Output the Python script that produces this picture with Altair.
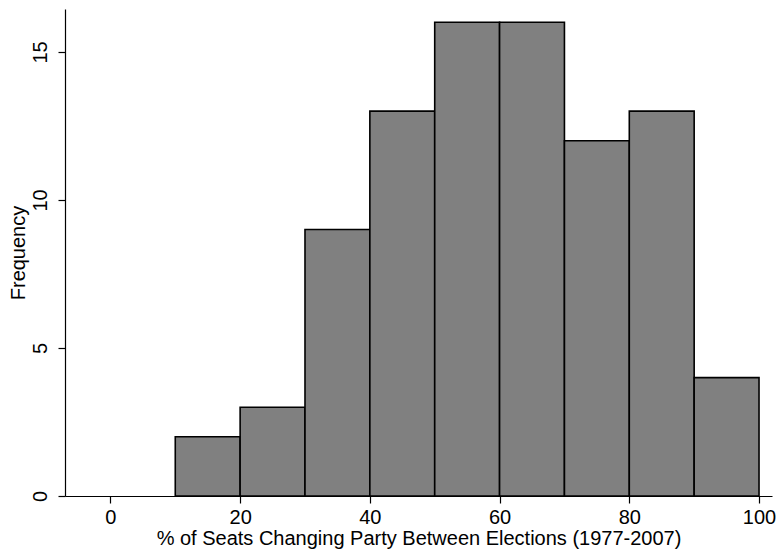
import altair as alt
import pandas as pd

bin_start = [10, 20, 30, 40, 50, 60, 70, 80, 90]
bin_end = [20, 30, 40, 50, 60, 70, 80, 90, 100]
frequency = [2, 3, 9, 13, 16, 16, 12, 13, 4]

df = pd.DataFrame({"start": bin_start, "end": bin_end, "freq": frequency})

FONT = "Liberation Sans"

bars = alt.Chart(df).mark_rect(
    fill="#808080", stroke="black", strokeWidth=1.6
).encode(
    x=alt.X(
        "start:Q",
        scale=alt.Scale(domain=[-7, 102], nice=False, zero=False),
        axis=alt.Axis(
            values=[0, 20, 40, 60, 80, 100],
            title="% of Seats Changing Party Between Elections (1977-2007)",
            grid=False,
            tickSize=7,
            labelPadding=4,
            titlePadding=1,
            labelOverlap=False,
            labelFlush=False,
        ),
    ),
    x2="end:Q",
    y=alt.Y(
        "freq:Q",
        scale=alt.Scale(domain=[0, 16.45], nice=False),
        axis=alt.Axis(
            values=[0, 5, 10, 15],
            title="Frequency",
            grid=False,
            tickSize=7,
            labelAngle=-90,
            labelAlign="center",
            labelBaseline="bottom",
            labelPadding=8,
            titlePadding=2,
        ),
    ),
    y2=alt.datum(0),
)

chart = bars.properties(
    width=707,
    height=487,
    autosize=alt.AutoSizeParams(type="none"),
    padding={"left": 65, "top": 9, "right": 5, "bottom": 57},
).configure_view(stroke=None).configure_axis(
    domainColor="black",
    domainWidth=1.2,
    tickColor="black",
    tickWidth=1.2,
    labelFont=FONT,
    titleFont=FONT,
    labelFontSize=20,
    titleFontSize=20,
    labelColor="black",
    titleColor="black",
    titleFontWeight="normal",
)

chart.save("out.html", embed_options={"renderer": "svg", "actions": False})
